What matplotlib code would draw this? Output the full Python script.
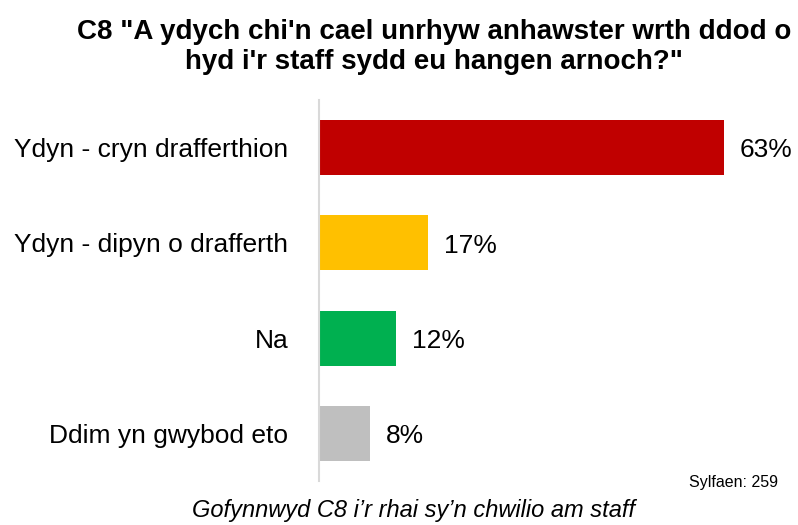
import matplotlib
matplotlib.use("Agg")
import matplotlib.pyplot as plt

plt.rcParams['font.family'] = ['Liberation Sans', 'DejaVu Sans']

categories = ["Ydyn - cryn drafferthion", "Ydyn - dipyn o drafferth", "Na", "Ddim yn gwybod eto"]
values = [63, 17, 12, 8]
colors = ["#C00000", "#FFC000", "#00B050", "#BFBFBF"]

fig = plt.figure(figsize=(7.98, 5.25), dpi=100)
ax = fig.add_axes([319 / 798, 44 / 525, 450 / 798, 381 / 525])

ypos = list(range(len(categories)))
ax.barh(ypos, values, height=0.58, color=colors)
ax.set_xlim(0, 70)
ax.set_ylim(3.5, -0.5)

for y, v in zip(ypos, values):
    ax.text(v + 2.4, y + 0.03, f"{v}%", va="center", ha="left", fontsize=19)

ax.set_yticks(ypos)
ax.set_yticklabels(categories, fontsize=19)
ax.tick_params(axis="y", length=0, pad=22)
ax.set_xticks([])
for side in ["top", "right", "bottom"]:
    ax.spines[side].set_visible(False)
ax.spines["left"].set_color("#D9D9D9")
ax.spines["left"].set_linewidth(1.5)

fig.text(434 / 798, 1 - 47 / 525,
         "C8 \"A ydych chi'n cael unrhyw anhawster wrth ddod o\nhyd i'r staff sydd eu hangen arnoch?\"",
         ha="center", va="center", fontsize=20, fontweight="bold", linespacing=1.22)
fig.text(778 / 798, 1 - 482 / 525, "Sylfaen: 259", ha="right", va="center", fontsize=11.5)
fig.text(414 / 798, 1 - 510 / 525, "Gofynnwyd C8 i’r rhai sy’n chwilio am staff",
         ha="center", va="center", fontsize=17, style="italic")

fig.savefig("out.png", dpi=100)
